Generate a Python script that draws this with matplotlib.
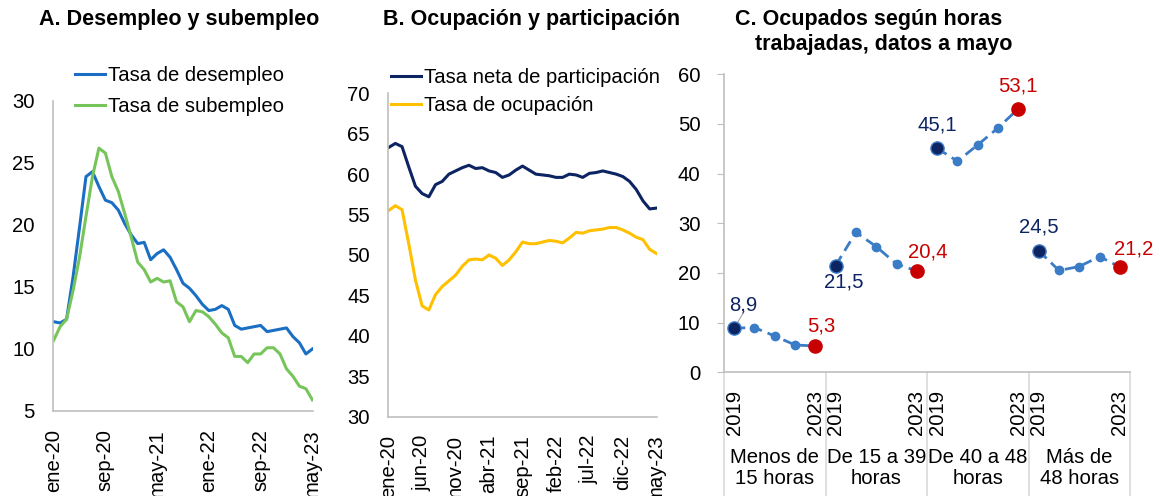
import matplotlib
matplotlib.use('Agg')
import matplotlib.pyplot as plt

plt.rcParams['font.family'] = ['Liberation Sans', 'DejaVu Sans']

# monthly series, ene-20 .. may-23
desempleo = [12.2, 12.1, 12.4, 15.8, 19.8, 23.9, 24.3, 23.1, 22.0, 21.8,
             21.2, 20.1, 19.2, 18.5, 18.6, 17.2, 17.7, 18.0, 17.4, 16.4,
             15.3, 14.9, 14.3, 13.6, 13.1, 13.2, 13.5, 13.2, 11.9, 11.6,
             11.7, 11.8, 11.9, 11.4, 11.5, 11.6, 11.7, 11.0, 10.5, 9.6, 10.0]
subempleo = [10.7, 11.8, 12.4, 14.7, 17.4, 20.7, 23.9, 26.2, 25.8, 23.9,
             22.7, 20.9, 19.0, 17.0, 16.4, 15.4, 15.7, 15.4, 15.5, 13.8,
             13.4, 12.2, 13.1, 13.0, 12.6, 12.0, 11.3, 10.9, 9.4, 9.4,
             8.9, 9.6, 9.6, 10.1, 10.1, 9.6, 8.4, 7.8, 7.0, 6.8, 5.9]
participacion = [63.3, 63.8, 63.4, 60.9, 58.5, 57.6, 57.2, 58.7, 59.1, 60.0,
                 60.4, 60.8, 61.1, 60.7, 60.8, 60.4, 60.2, 59.6, 59.9, 60.5,
                 61.0, 60.5, 60.0, 59.9, 59.8, 59.6, 59.6, 60.0, 59.9, 59.6,
                 60.1, 60.2, 60.4, 60.2, 60.0, 59.7, 59.1, 58.1, 56.7, 55.7, 55.8]
ocupacion = [55.5, 56.1, 55.6, 51.4, 46.9, 43.7, 43.2, 45.1, 46.1, 46.8,
             47.5, 48.6, 49.4, 49.5, 49.4, 50.0, 49.6, 48.7, 49.4, 50.4,
             51.6, 51.4, 51.4, 51.6, 51.8, 51.7, 51.5, 52.1, 52.8, 52.7,
             53.0, 53.1, 53.2, 53.4, 53.4, 53.1, 52.7, 52.2, 51.9, 50.7, 50.2]

mes = ['ene', 'feb', 'mar', 'abr', 'may', 'jun', 'jul', 'ago', 'sep', 'oct', 'nov', 'dic']
fechas = [f"{mes[i % 12]}-{20 + i // 12}" for i in range(len(desempleo))]

# panel C: ocupados por horas trabajadas, 2019..2023
grupos = ['Menos de\n15 horas', 'De 15 a 39\nhoras', 'De 40 a 48\nhoras', 'Más de\n48 horas']
anios = ['2019', '2020', '2021', '2022', '2023']
horas = [[8.9, 9.0, 7.3, 5.5, 5.3],
         [21.5, 28.2, 25.3, 21.8, 20.4],
         [45.1, 42.5, 45.8, 49.2, 53.1],
         [24.5, 20.5, 21.3, 23.3, 21.2]]
# label offsets in pixels (start, end)
off_ini = [(9, 23), (8, -16), (0, 23), (0, 24)]
off_fin = [(6, 20), (11, 19), (0, 23), (14, 18)]

AZUL = '#1a6fc4'
VERDE = '#77c55a'
NAVY = '#0d2463'
AMARILLO = '#ffc000'
LINEA_C = '#3b7cc6'
ROJO = '#c80000'
GRIS = '#bfbfbf'
FS = 14.6

fig = plt.figure(figsize=(11.6, 4.96), dpi=100)


def estilo(ax):
    for s in ['top', 'right']:
        ax.spines[s].set_visible(False)
    for s in ['left', 'bottom']:
        ax.spines[s].set_color(GRIS)
        ax.spines[s].set_linewidth(1.2)
    ax.tick_params(labelsize=FS, length=0, pad=13)


# ---- A
axA = fig.add_axes([53 / 1160, 1 - 411 / 496, 260 / 1160, 310 / 496])
x = list(range(len(desempleo)))
axA.plot(x, desempleo, color=AZUL, lw=2.2, label='Tasa de desempleo')
axA.plot(x, subempleo, color=VERDE, lw=2.2, label='Tasa de subempleo')
axA.set_ylim(5, 30)
axA.set_yticks(range(5, 31, 5))
axA.set_xlim(-0.1, 40.1)
axA.set_xticks(x[::8])
axA.set_xticklabels(fechas[::8], rotation=90)
estilo(axA)
axA.legend(loc='upper left', bbox_to_anchor=(75 / 1160, 1 - 66 / 496),
           bbox_transform=fig.transFigure, frameon=False, fontsize=FS,
           handlelength=1.5, handletextpad=0.15, labelspacing=0.6,
           borderpad=0, borderaxespad=0)
fig.text(179 / 1160, 1 - 19 / 496, 'A. Desempleo y subempleo', ha='center', va='center',
         fontsize=15.5, fontweight='bold')

# ---- B
axB = fig.add_axes([388 / 1160, 1 - 416.7 / 496, 269 / 1160, 323.4 / 496])
axB.plot(x, participacion, color=NAVY, lw=2.2, label='Tasa neta de participación')
axB.plot(x, ocupacion, color=AMARILLO, lw=2.2, label='Tasa de ocupación')
axB.set_ylim(30, 70)
axB.set_yticks(range(30, 71, 5))
axB.set_xlim(-0.1, 40.1)
axB.set_xticks(x[::5])
axB.set_xticklabels(fechas[::5], rotation=90)
estilo(axB)
axB.legend(loc='upper left', bbox_to_anchor=(391 / 1160, 1 - 68 / 496),
           bbox_transform=fig.transFigure, frameon=False, fontsize=FS,
           handlelength=1.5, handletextpad=0.15, labelspacing=0.45,
           borderpad=0, borderaxespad=0)
fig.text(532 / 1160, 1 - 19 / 496, 'B. Ocupación y participación', ha='center', va='center',
         fontsize=15.5, fontweight='bold')

# ---- C
axC = fig.add_axes([724 / 1160, 1 - 372.3 / 496, 406 / 1160, 298 / 496])
n = len(anios)
for g, vals in enumerate(horas):
    xs = [g * n + i for i in range(n)]
    axC.plot(xs, vals, color=LINEA_C, lw=2.0, dashes=(4, 2.2), marker='o', ms=6,
             zorder=2)
    axC.plot(xs[0], vals[0], 'o', ms=9.5, color=NAVY, mec=LINEA_C, mew=1, zorder=3)
    axC.plot(xs[-1], vals[-1], 'o', ms=9.5, color=ROJO, mec=ROJO, zorder=3)
    dx, dy = off_ini[g]
    axC.annotate(f"{vals[0]:.1f}".replace('.', ','), (xs[0], vals[0]),
                 xytext=(dx, dy), textcoords='offset pixels', ha='center', va='center',
                 fontsize=FS, color=NAVY)
    dx, dy = off_fin[g]
    axC.annotate(f"{vals[-1]:.1f}".replace('.', ','), (xs[-1], vals[-1]),
                 xytext=(dx, dy), textcoords='offset pixels', ha='center', va='center',
                 fontsize=FS, color=ROJO)
    axC.text(g * n + (n - 1) / 2, -0.322, grupos[g], transform=axC.get_xaxis_transform(),
             ha='center', va='center', fontsize=FS, linespacing=1.15)
# leader line for first label
axC.plot([0.1, 0.5], [9.6, 12.3], color='#a6a6a6', lw=0.8, zorder=1)

axC.set_xlim(-0.5, len(horas) * n - 0.5)
axC.set_ylim(0, 60)
axC.set_yticks(range(0, 61, 10))
tick_pos = []
tick_lab = []
for g in range(len(horas)):
    tick_pos += [g * n, g * n + n - 1]
    tick_lab += [anios[0], anios[-1]]
axC.set_xticks(tick_pos)
axC.set_xticklabels(tick_lab, rotation=90)
estilo(axC)
axC.tick_params(axis='y', length=5, color=GRIS, pad=12)
axC.tick_params(axis='x', pad=13)
for b in range(len(horas) + 1):
    axC.plot([b * n - 0.5] * 2, [0, -0.42], transform=axC.get_xaxis_transform(),
             color='#d9d9d9', lw=1.2, clip_on=False)
fig.text(869 / 1160, 1 - 32 / 496, 'C. Ocupados según horas\n     trabajadas, datos a mayo',
         ha='center', va='center', fontsize=15.5, fontweight='bold', linespacing=1.25)

fig.savefig('out.png', dpi=100)
